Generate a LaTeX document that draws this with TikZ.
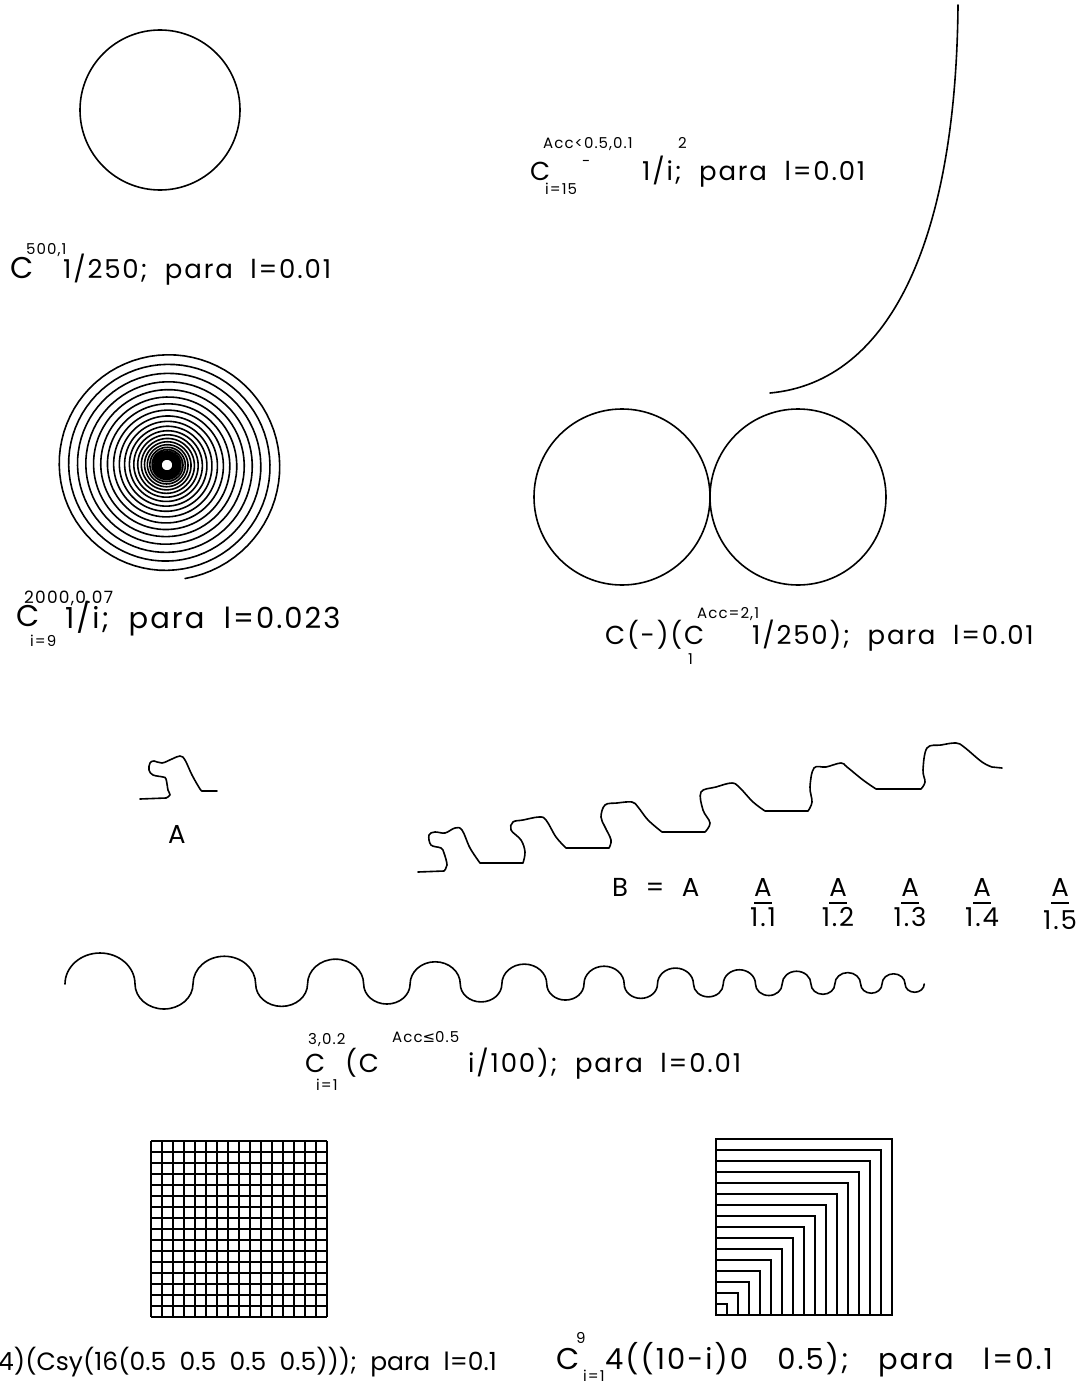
\documentclass[tikz,border=0pt]{standalone}
\usepackage{fontspec}
\setmainfont{Poppins}[LetterSpace=7]
\newfontfamily\narrowfont{Poppins}
\newfontfamily\symfont{DejaVu Sans}
\usetikzlibrary{positioning}
\tikzset{
  curve/.style={line width=1.6pt, line join=round, line cap=round},
  thin/.style={line width=1.2pt},
  lbl/.style={font=\fontsize{26}{30}\selectfont, inner sep=0pt, anchor=base west},
  lblbig/.style={font=\fontsize{29}{32}\selectfont, inner sep=0pt, anchor=base west},
  idx/.style={font=\fontsize{15}{17}\selectfont, inner sep=0pt, anchor=base west},
  idxbig/.style={font=\fontsize{17}{19}\selectfont, inner sep=0pt, anchor=base west},
  bigC/.style={font=\fontsize{30}{32}\selectfont, inner sep=0pt, anchor=base west},
}
% staircase built from the motif A
\def\Bsteps{(418,872) -- (444,871)
  -- plot[smooth, tension=0.6] coordinates {(444,871) (447,865) (444,853) (441,848) (431,845) (429,835) (435,832) (445,833) (455,828) (462,830) (470,848) (480,863)} -- (523,863)
  -- plot[smooth, tension=0.6] coordinates {(523,863) (525,852) (521,840) (511,830) (513,822) (523,820) (539,817) (546,820) (556,837) (566,848)} -- (609,848)
  -- plot[smooth, tension=0.6] coordinates {(609,848) (611,840) (605,827) (601,817) (605,805) (617,803) (632,802) (638,807) (648,820) (662,832)} -- (705,832)
  -- plot[smooth, tension=0.6] coordinates {(705,832) (710,823) (703,810) (701,792) (716,787) (732,783) (740,788) (753,802) (765,811)} -- (808,811)
  -- plot[smooth, tension=0.6] coordinates {(808,811) (812,802) (810,787) (814,768) (826,767) (841,763) (847,767) (863,780) (876,789)} -- (921,789)
  -- plot[smooth, tension=0.6] coordinates {(921,789) (925,782) (923,770) (927,748) (941,745) (956,743) (964,747) (982,762) (992,767)} -- (1002,768)}
\begin{document}
\begin{tikzpicture}[x=1pt, y=-1pt]
  \useasboundingbox (0,0) rectangle (1082,1386);
  % circle C^{500,1}
  \draw[curve] (160,110) circle[radius=80];
  \node[bigC] (c1) at (10,278) {C};
  \node[idx] (c1sup) at (26,254) {500,1};
  \node[lbl] (c1txt) at (63,278) {1/250;~ para~ l=0.01};
  % open arc, top right
  \draw[curve] (958,5) .. controls (956,240) and (890,382) .. (770,393);
  \node[lbl] (c2) at (530,180) {C};
  \node[idx] (c2sup) at (543,149) {Acc<0.5,0.1};
  \node[idx] (c2bar) at (582,166) {-};
  \node[idx] (c2exp) at (678,148) {2};
  \node[idx] (c2sub) at (545,194) {i=15};
  \node[lbl] (c2txt) at (642,180) {1/i;~ para~ l=0.01};
  % spiral
  \draw[curve] plot[domain=0:10800, samples=2400]
    ({167+(6+109*(\x/10800)^2.8)*cos(\x+81)}, {465+(6+109*(\x/10800)^2.8)*sin(\x+81)});
  \node[bigC] (c3) at (16,626) {C};
  \node[idxbig] (c3sup) at (24,603) {2000,0.07};
  \node[idx] (c3sub) at (30,646) {i=9};
  \node[lblbig] (c3txt) at (65,628) {1/i;~ para~ l=0.023};
  % two touching circles
  \draw[curve] (622,497) circle[radius=88];
  \draw[curve] (798,497) circle[radius=88];
  \node[lbl] (c4) at (605,644) {C(-)(C};
  \node[idx] (c4sup) at (697,618) {Acc=2,1};
  \node[idx] (c4sub) at (688,664) {1};
  \node[lbl] (c4txt) at (752,644) {1/250);~ para~ l=0.01};
  % motif A
  \draw[curve] (140,799) -- (166,798)
    -- plot[smooth, tension=0.6] coordinates {(166,798) (170,795) (168,790) (166,779) (163,777) (153,775) (149,770) (150,763) (154,761) (162,763) (172,759) (180,756) (185,760) (192,775) (200,789) (202,791)} -- (217,791);
  \node[lbl, anchor=base] (labA) at (177,843) {A};
  % staircase B
  \draw[curve] \Bsteps;
  \node[lbl] (labB) at (612,896) {B~ =~ A};
  \foreach \xc/\d/\yd in {763/1.1/926, 838/1.2/926, 910/1.3/926, 982/1.4/926, 1060/1.5/929}{
    \node[lbl, anchor=base] (num\d) at (\xc,896) {A};
    \draw[thin] (\xc-9,903) -- (\xc+9,903);
    \node[lbl, anchor=base] (den\d) at (\xc,\yd) {\d};
  }
  % wave
  \draw[curve] (65,984) \foreach \k in {0,...,10}{
      arc[start angle=180, end angle=360, x radius={35*0.895^\k}, y radius={31*0.895^\k}]
      arc[start angle=180, end angle=0, x radius={29*0.895^\k}, y radius={25*0.895^\k}]};
  \node[lbl] (c5) at (305,1072) {C};
  \node[idx] (c5sup) at (308,1044) {3,0.2};
  \node[idx] (c5sub) at (316,1090) {i=1};
  \node[lbl] (c5in) at (345,1072) {(C};
  \node[idx] (c5insup) at (392,1042) {Acc{\symfont ≤}0.5};
  \node[lbl] (c5txt) at (468,1072) {i/100);~ para~ l=0.01};
  % grid
  \foreach \i in {0,...,16}{
    \draw[thin] (151+\i*11,1141) -- (151+\i*11,1317);
    \draw[thin] (151,1141+\i*11) -- (327,1141+\i*11);
  }
  \node[lbl, font=\narrowfont\fontsize{25}{30}\selectfont] (c6txt) at (-2,1370) {4)(Csy(16(0.5~~0.5~~0.5~~0.5)));~ para~ l=0.1};
  % nested squares
  \foreach \k in {1,...,16}
    \draw[thin] (716,1315) rectangle ++(\k*11,-\k*11);
  \node[bigC] (c7) at (556,1369) {C};
  \node[idx] (c7sup) at (576,1343) {9};
  \node[idx] (c7sub) at (583,1381) {i=1};
  \node[lbl, font=\fontsize{29}{32}\selectfont] (c7txt) at (605,1369) {4((10-i)0~~~0.5);~~ para~~ l=0.1};
\end{tikzpicture}
\end{document}
